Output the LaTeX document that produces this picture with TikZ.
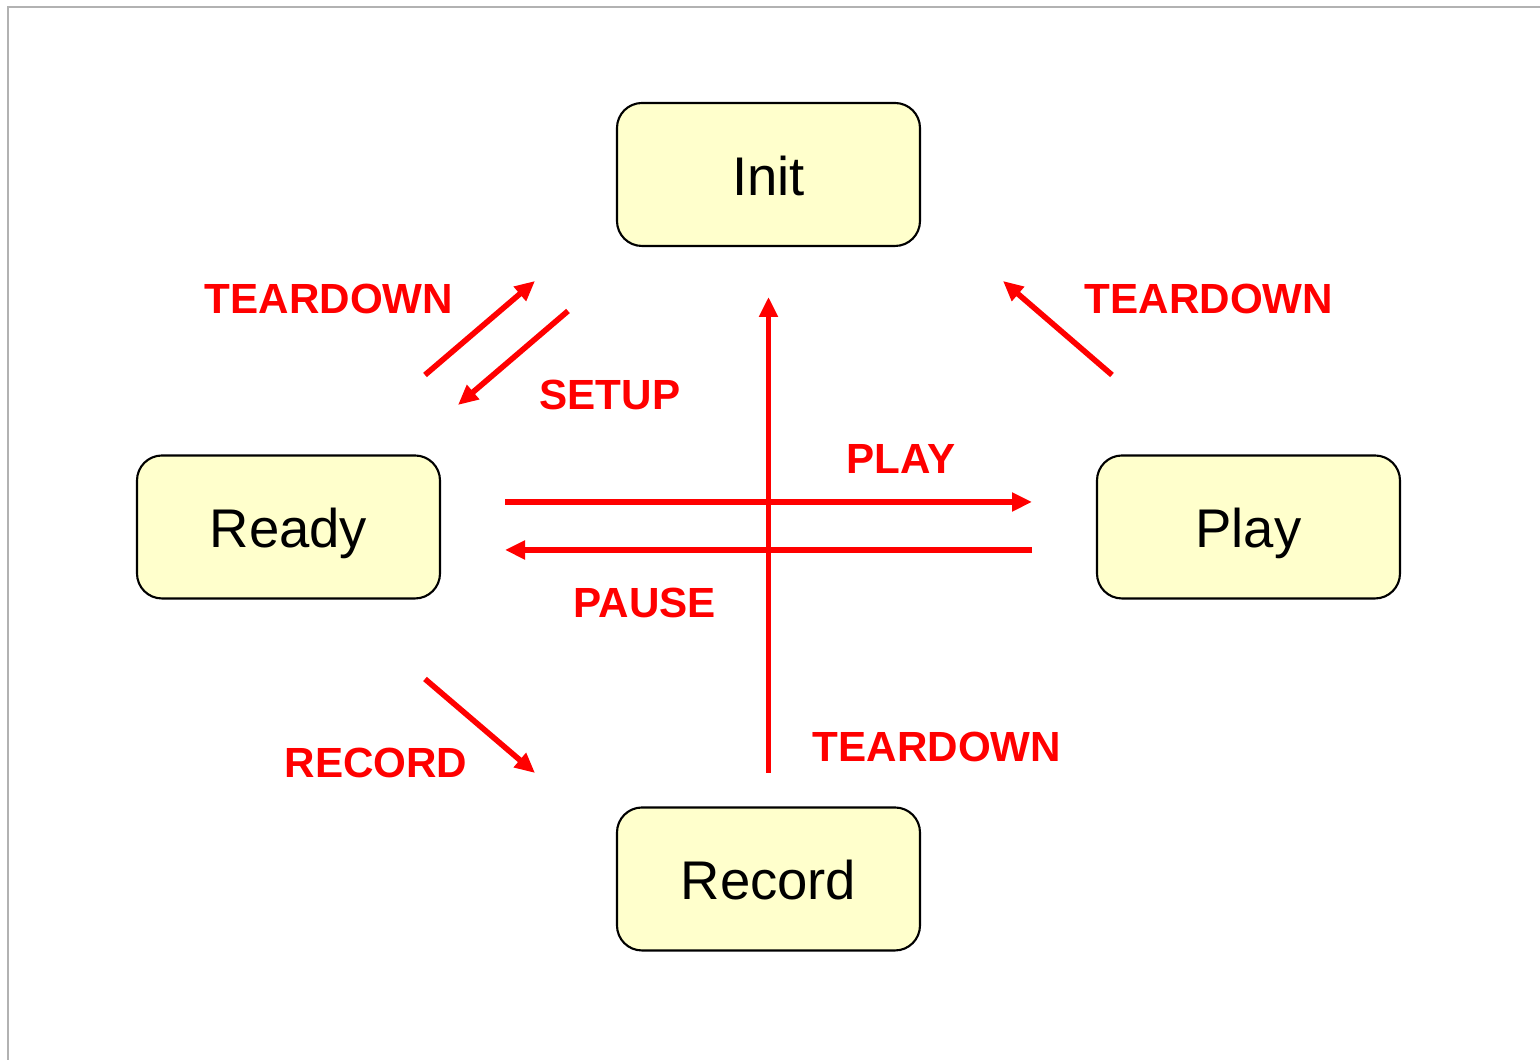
\documentclass[tikz,border=0pt]{standalone}
\usepackage{fontspec}
\setmainfont{Liberation Sans}
\usetikzlibrary{arrows.meta}
\definecolor{statefill}{HTML}{FFFFCC}
\tikzset{
  state/.style={draw, line width=0.6pt, rounded corners=0.25cm, fill=statefill,
    minimum width=3.03cm, minimum height=1.43cm, text height=11.8pt, text depth=0pt,
    font=\fontsize{15.5}{18}\selectfont},
  trans/.style={draw=red, line width=1.6pt, -{Triangle[length=0.2cm,width=0.18cm]}},
  translabel/.style={text=red, font=\fontsize{12}{14}\selectfont\bfseries}
}
\begin{document}
\begin{tikzpicture}
        \useasboundingbox (0,0) rectangle (15.4,10.6);
        % Frame
        \draw[gray!60, line width=0.6pt] (0.08,0) -- (0.08,10.53) -- (15.4,10.53);

        % States
        \node[state] (init) at (7.685,8.855) {Init};
        \node[state] (ready) at (2.885,5.33) {Ready};
        \node[state] (play) at (12.485,5.33) {Play};
        \node[state] (record) at (7.685,1.81) {Record};

        % Arrow end points
        \coordinate (rtA) at (4.25,6.85);
        \coordinate (rtB) at (5.35,7.79);
        \coordinate (suA) at (5.68,7.49);
        \coordinate (suB) at (4.58,6.55);
        \coordinate (ptA) at (11.12,6.85);
        \coordinate (ptB) at (10.03,7.79);
        \coordinate (ctA) at (7.685,2.87);
        \coordinate (ctB) at (7.685,7.63);
        \coordinate (plA) at (5.05,5.58);
        \coordinate (plB) at (10.32,5.58);
        \coordinate (paA) at (10.32,5.10);
        \coordinate (paB) at (5.05,5.10);
        \coordinate (rcA) at (4.25,3.81);
        \coordinate (rcB) at (5.35,2.87);

        % Transitions
        \draw[trans] (rtA) -- (rtB);
        \draw[trans] (suA) -- (suB);
        \draw[trans] (ptA) -- (ptB);
        \draw[trans] (ctA) -- (ctB);
        \draw[trans] (plA) -- (plB);
        \draw[trans] (paA) -- (paB);
        \draw[trans] (rcA) -- (rcB);

        % Labels
        \node[translabel] (lrt) at (3.29,7.61) {TEARDOWN};
        \node[translabel] (lsu) at (6.10,6.65) {SETUP};
        \node[translabel] (lpt) at (12.09,7.61) {TEARDOWN};
        \node[translabel] (lpl) at (9.01,6.01) {PLAY};
        \node[translabel] (lpa) at (6.45,4.57) {PAUSE};
        \node[translabel] (lrc) at (3.76,2.97) {RECORD};
        \node[translabel] (lct) at (9.37,3.13) {TEARDOWN};
    \end{tikzpicture}
\end{document}
